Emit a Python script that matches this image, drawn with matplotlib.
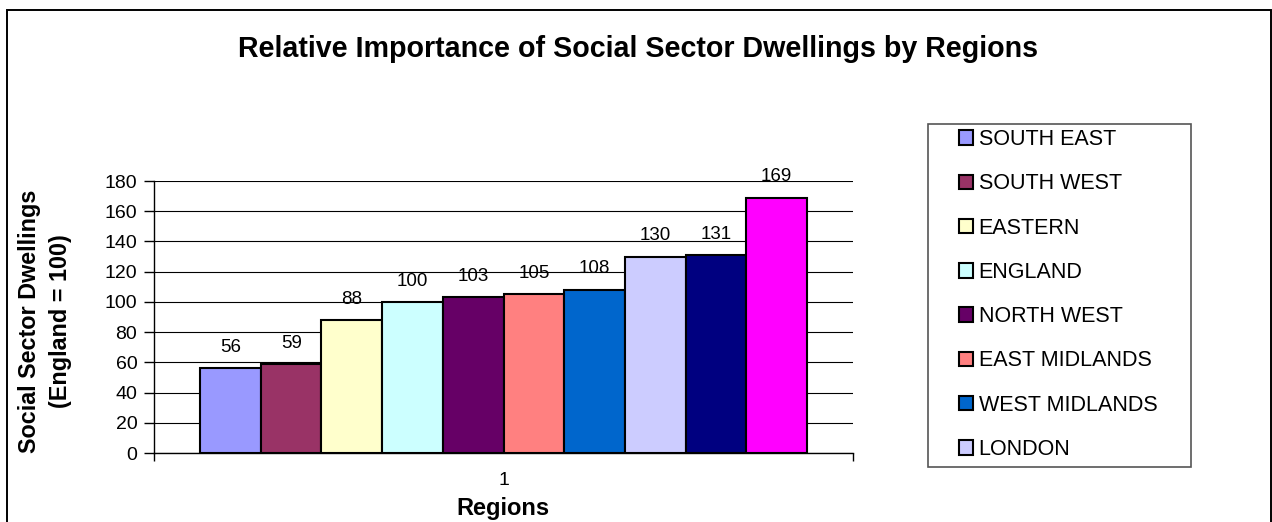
import matplotlib
matplotlib.use("Agg")
import matplotlib.pyplot as plt
from matplotlib.patches import Patch, Rectangle

plt.rcParams['font.family'] = ['Liberation Sans', 'DejaVu Sans']

regions = ["SOUTH EAST", "SOUTH WEST", "EASTERN", "ENGLAND", "NORTH WEST",
           "EAST MIDLANDS", "WEST MIDLANDS", "LONDON", "YORKSHIRE & HUMBER", "NORTH EAST"]
values = [56, 59, 88, 100, 103, 105, 108, 130, 131, 169]
colors = ["#9999FF", "#993366", "#FFFFCC", "#CCFFFF", "#660066",
          "#FF8080", "#0066CC", "#CCCCFF", "#000080", "#FF00FF"]
legend_count = 8
yticks = [0, 20, 40, 60, 80, 100, 120, 140, 160, 180]
category_labels = ["1"]

W, H = 1272, 522
fig = plt.figure(figsize=(W / 100, H / 100), dpi=100)

def fx(px):
    return px / W

def fy(py):
    return 1 - py / H

# outer chart border
fig.add_artist(Rectangle((fx(7), fy(530)), fx(1270.5) - fx(7), fy(9.5) - fy(530),
                         transform=fig.transFigure, fill=False, edgecolor='black', lw=1.4))

ax = fig.add_axes([fx(154), fy(453), fx(853) - fx(154), fy(181) - fy(453)])
n = len(values)
w = 0.868 / n
xs = [1 + (i - (n - 1) / 2) * w for i in range(n)]
bars = ax.bar(xs, values, width=w, color=colors, edgecolor='black', linewidth=1.5, zorder=3)
for x, v in zip(xs, values):
    ax.annotate(str(v), (x, v), xytext=(0, 15), textcoords='offset points',
                ha='center', va='center', fontsize=13.5, zorder=4)

ax.set_xlim(0.5, 1.5)
ax.set_ylim(0, 180)
ax.set_yticks(yticks)
ax.tick_params(axis='y', labelsize=14, length=7, width=1, pad=5, direction='out')
ax.set_xticks([1])
ax.set_xticklabels(category_labels)
ax.set_xticks([0.5, 1.5], minor=True)
ax.tick_params(axis='x', which='major', length=0, labelsize=14, pad=14)
ax.tick_params(axis='x', which='minor', length=6, width=1)
ax.grid(axis='y', color='black', linewidth=0.8, zorder=0)
for s in ['top', 'right']:
    ax.spines[s].set_visible(False)
for s in ['left', 'bottom']:
    ax.spines[s].set_color('black')
    ax.spines[s].set_linewidth(1)

fig.text(fx(638), fy(57), "Relative Importance of Social Sector Dwellings by Regions",
         ha='center', va='baseline', fontsize=20.6, fontweight='bold')
fig.text(fx(503), fy(515), "Regions", ha='center', va='baseline', fontsize=17, fontweight='bold')
fig.text(fx(45), fy(321), "Social Sector Dwellings\n(England = 100)", rotation=90,
         ha='center', va='center', fontsize=16.8, fontweight='bold', multialignment='center',
         linespacing=1.45)

# legend frame
fig.add_artist(Rectangle((fx(928), fy(467)), fx(1191) - fx(928), fy(124) - fy(467),
                         transform=fig.transFigure, fill=False, edgecolor='#555555', lw=1.2))
handles = [Patch(facecolor=c, edgecolor='black', linewidth=1.5) for c in colors[:legend_count]]
fig.legend(handles, regions[:legend_count], loc='upper left',
           bbox_to_anchor=(fx(942), fy(112)), frameon=False, fontsize=15.5,
           handlelength=0.65, handleheight=0.65, handletextpad=0.25,
           labelspacing=1.08, borderpad=0.3)

fig.savefig("out.png", dpi=100)
